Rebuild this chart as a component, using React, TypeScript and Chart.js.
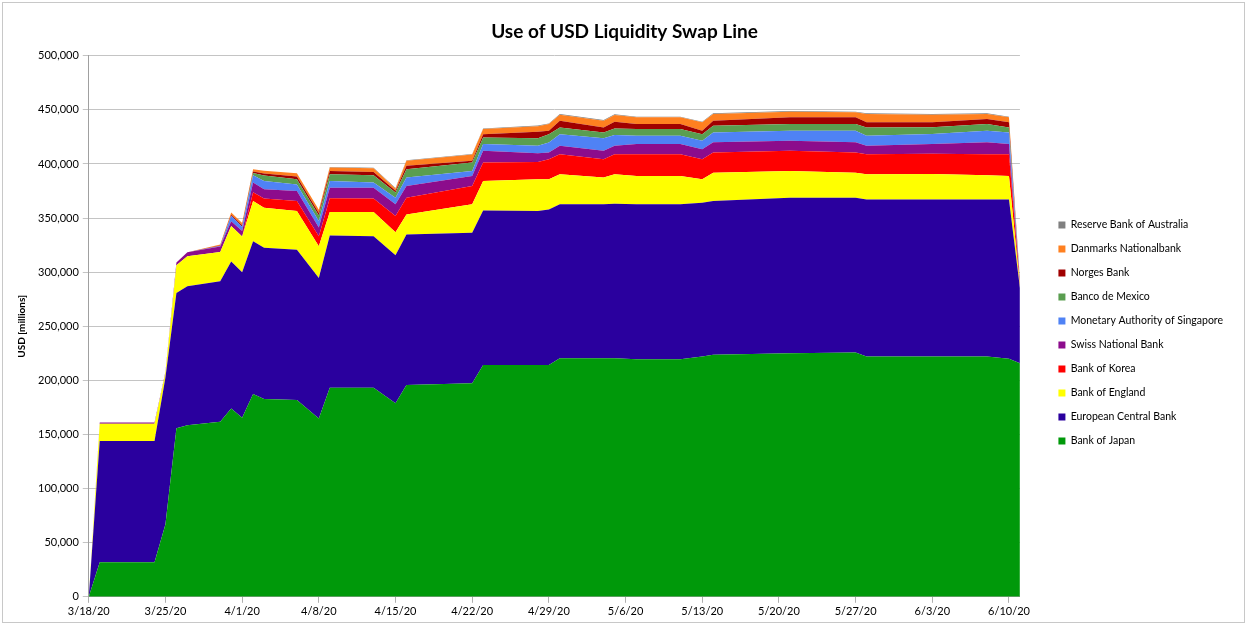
import React, { useEffect, useRef } from "react";
import { Chart, registerables } from "chart.js";

Chart.register(...registerables);

const dates = [
  "2020-03-18", "2020-03-19", "2020-03-24", "2020-03-25", "2020-03-26", "2020-03-27",
  "2020-03-30", "2020-03-31", "2020-04-01", "2020-04-02", "2020-04-03", "2020-04-06",
  "2020-04-08", "2020-04-09", "2020-04-13", "2020-04-15", "2020-04-16", "2020-04-22",
  "2020-04-23", "2020-04-28", "2020-04-29", "2020-04-30", "2020-05-04", "2020-05-05",
  "2020-05-07", "2020-05-11", "2020-05-13", "2020-05-14", "2020-05-21", "2020-05-27",
  "2020-05-28", "2020-06-03", "2020-06-08", "2020-06-10", "2020-06-11",
];

const bankOfJapan = [
  0, 32000, 32000, 67000, 155800, 158600, 161700, 174000, 165400, 187400, 182700, 181800,
  164800, 193200, 193200, 178800, 195700, 197300, 214300, 214300, 214300, 220500, 220500, 220500,
  219600, 219600, 222000, 223600, 225100, 225700, 222000, 222000, 222000, 220000, 215900,
];
const europeanCentralBank = [
  0, 112000, 112000, 136000, 125000, 128400, 130000, 136000, 134600, 141300, 139800, 139000,
  129900, 140800, 140100, 136900, 139200, 139200, 142800, 142200, 143700, 142200, 142200, 142800,
  143100, 143100, 142300, 142200, 143800, 143200, 145300, 145300, 145300, 147300, 69500,
];
const bankOfEngland = [
  0, 16000, 16000, 4000, 25600, 27800, 27000, 32600, 33000, 37100, 37000, 35700,
  29300, 21600, 22300, 21300, 18500, 26200, 27300, 29400, 27900, 27800, 24800, 27200,
  26300, 26300, 21600, 26200, 24700, 23100, 23200, 23500, 22300, 21700, 2000,
];
const bankOfKorea = [
  0, 0, 0, 0, 0, 0, 0, 0, 0, 8200, 8500, 9300,
  9300, 12700, 12400, 14900, 15500, 17000, 17000, 16000, 18600, 18600, 17000, 18600,
  20100, 20100, 18600, 18700, 18600, 18700, 18600, 18600, 19500, 20100, 2000,
];
const swissNationalBank = [
  0, 1000, 1000, 1000, 2500, 3700, 5000, 4500, 5000, 8800, 8600, 9200,
  8000, 9700, 10000, 10800, 10800, 9300, 10800, 8000, 6200, 7700, 7700, 7700,
  9300, 9300, 9200, 9300, 9200, 9300, 7700, 9000, 10900, 9300, 1000,
];
const monetaryAuthorityOfSingapore = [
  0, 0, 0, 0, 0, 0, 500, 5000, 4000, 6800, 7700, 6000,
  6000, 6400, 5000, 6200, 7800, 4600, 6200, 7000, 9200, 10800, 11500, 9900,
  7700, 7700, 7700, 9200, 9300, 10700, 9300, 9300, 10700, 10800, 1000,
];
const bancoDeMexico = [
  0, 0, 0, 0, 0, 0, 0, 0, 0, 2000, 5000, 5000,
  5000, 6100, 6600, 4700, 7700, 7800, 6200, 7000, 7700, 6200, 5500, 6200,
  6200, 6200, 6200, 6200, 6200, 6200, 7700, 6200, 6200, 4600, 1000,
];
const norgesBank = [
  0, 0, 0, 0, 0, 0, 500, 1000, 1500, 1500, 2000, 2500,
  2500, 3000, 3100, 1600, 3100, 1500, 3000, 6000, 3100, 6200, 4600, 6100,
  4600, 4600, 3100, 4600, 6200, 6200, 4700, 4700, 4700, 4700, 500,
];
const danmarksNationalbank = [
  0, 0, 0, 0, 0, 0, 1000, 2000, 2000, 2000, 2500, 3000,
  3000, 3200, 3300, 2000, 4600, 5800, 4700, 5000, 6200, 5600, 6200, 6300,
  6200, 6200, 7800, 6200, 5300, 4700, 7700, 7000, 4600, 4600, 500,
];
const reserveBankOfAustralia = [
  0, 0, 0, 0, 0, 0, 0, 0, 0, 0, 0, 0,
  0, 600, 600, 600, 600, 600, 600, 600, 600, 600, 600, 600,
  600, 600, 600, 600, 600, 600, 600, 600, 600, 600, 300,
];

const seriesNames = [
  "Bank of Japan", "European Central Bank", "Bank of England", "Bank of Korea",
  "Swiss National Bank", "Monetary Authority of Singapore", "Banco de Mexico",
  "Norges Bank", "Danmarks Nationalbank", "Reserve Bank of Australia",
];
const seriesValues = [
  bankOfJapan, europeanCentralBank, bankOfEngland, bankOfKorea, swissNationalBank,
  monetaryAuthorityOfSingapore, bancoDeMexico, norgesBank, danmarksNationalbank,
  reserveBankOfAustralia,
];
const seriesColors = [
  "#00990a", "#2a009e", "#ffff00", "#ff0000", "#8c0c8c",
  "#4f82f5", "#5a9e50", "#a00000", "#ff8020", "#808080",
];

const xTickLabels = [
  "3/18/20", "3/25/20", "4/1/20", "4/8/20", "4/15/20", "4/22/20", "4/29/20",
  "5/6/20", "5/13/20", "5/20/20", "5/27/20", "6/3/20", "6/10/20",
];
const startDate = "2020-03-18";
const dayStep = 7;
const lastDay = 85;

const dayOf = (d: string) =>
  Math.round((Date.parse(d + "T00:00:00Z") - Date.parse(startDate + "T00:00:00Z")) / 86400000);

export default function App() {
  const ref = useRef<HTMLCanvasElement | null>(null);

  useEffect(() => {
    if (!ref.current) return;
    Chart.defaults.font.family = "Lato, 'Open Sans', sans-serif";
    const xs = dates.map(dayOf);
    const datasets = seriesNames.map((name, i) => ({
      label: name,
      data: seriesValues[i].map((v, j) => ({ x: xs[j], y: v })),
      backgroundColor: seriesColors[i],
      borderColor: seriesColors[i],
      borderWidth: 0,
      pointRadius: 0,
      tension: 0,
      fill: i === 0 ? "origin" : "-1",
    }));

    const chart = new Chart(ref.current, {
      type: "line",
      data: { datasets },
      options: {
        animation: false,
        responsive: true,
        maintainAspectRatio: false,
        layout: { padding: { left: 16, right: 14, bottom: 5, top: 0 } },
        plugins: {
          title: {
            display: true,
            text: "Use of USD Liquidity Swap Line",
            color: "#000",
            font: { size: 19, weight: "bold" },
            padding: { top: 20, bottom: 13 },
          },
          legend: {
            position: "right",
            reverse: true,
            title: {
              display: true,
              text: " ",
              font: { size: 10 },
              padding: { top: 34, bottom: 0 },
            },
            labels: {
              boxWidth: 7,
              boxHeight: 7,
              padding: 13.5,
              color: "#000",
              font: { size: 10.5 },
            },
          },
          tooltip: { enabled: false },
        },
        scales: {
          x: {
            type: "linear",
            min: 0,
            max: lastDay,
            afterBuildTicks: (scale: any) => {
              scale.ticks = xTickLabels.map((_, i) => ({ value: i * dayStep }));
            },
            ticks: {
              autoSkip: false,
              maxRotation: 0,
              color: "#000",
              font: { size: 11 },
              padding: 2,
              callback: (v: any) => xTickLabels[Math.round(Number(v) / dayStep)] ?? "",
            },
            grid: {
              drawOnChartArea: false,
              drawTicks: true,
              tickLength: 6,
              color: "#b0b0b0",
            },
            border: { color: "#a0a0a0" },
          },
          y: {
            stacked: true,
            min: 0,
            max: 500000,
            ticks: {
              stepSize: 50000,
              color: "#000",
              font: { size: 11 },
              padding: 4,
              callback: (v: any) => Number(v).toLocaleString("en-US"),
            },
            grid: { color: "#c4c4c4", tickLength: 6 },
            border: { color: "#a0a0a0" },
            title: {
              display: true,
              text: "USD [millions]",
              color: "#000",
              font: { size: 10, weight: "bold" },
              padding: { top: 0, bottom: 6 },
            },
          },
          gap: {
            type: "linear",
            position: "right",
            min: 0,
            max: 1,
            grid: { display: false, drawTicks: false },
            border: { display: false },
            ticks: { display: false },
            afterFit: (scale: any) => {
              scale.width = 25;
            },
          },
        },
      },
    });
    return () => chart.destroy();
  }, []);

  return (
    <div style={{ position: "fixed", left: 0, top: 0, width: 1247, height: 625, background: "#fff" }}>
      <div
        style={{
          position: "absolute",
          left: 2,
          top: 2,
          right: 2,
          bottom: 2,
          border: "1px solid #c8c8c8",
          pointerEvents: "none",
        }}
      />
      <canvas ref={ref} />
    </div>
  );
}
